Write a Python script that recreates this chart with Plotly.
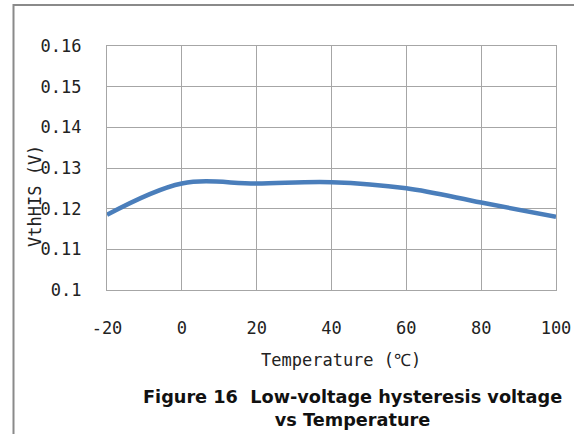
import plotly.graph_objects as go

# temperature (degC) and hysteresis voltage (V)
temperature = [-20, 0, 20, 40, 60, 80, 100]
vth_his = [0.1185, 0.1262, 0.1262, 0.1265, 0.1250, 0.1215, 0.1180]

y_ticks = [0.10, 0.11, 0.12, 0.13, 0.14, 0.15, 0.16]
y_ticktext = ["0.1", "0.11", "0.12", "0.13", "0.14", "0.15", "0.16"]
x_ticks = [-20, 0, 20, 40, 60, 80, 100]
x_ticktext = ["-20", "0", "20", "40", "60", "80", "100"]

W, H = 574, 434
L, R, T, B = 107, 18, 46, 144
PW, PH = W - L - R, H - T - B


def px(x):
    return (x - L) / PW


def py(y):
    return (H - B - y) / PH


mono = dict(family="DejaVu Sans Mono", size=17, color="#222222")
grid = "#a6a6a6"

fig = go.Figure(go.Scatter(
    x=temperature, y=vth_his, mode="lines",
    line=dict(color="#4a7ebb", width=4.5, shape="spline", smoothing=1),
    hoverinfo="x+y",
))

fig.update_layout(
    template="none",
    width=W, height=H,
    margin=dict(l=L, r=R, t=T, b=B, autoexpand=False),
    paper_bgcolor="white", plot_bgcolor="white",
    showlegend=False,
    xaxis=dict(range=[-20, 100], tickvals=x_ticks, ticktext=x_ticktext, showgrid=True,
               gridcolor=grid, gridwidth=1.2, showline=True, linecolor=grid, linewidth=1.2,
               mirror=True, zeroline=False, ticks="", tickfont=mono, ticklabelstandoff=22,
               automargin=False),
    yaxis=dict(range=[0.1, 0.16], tickvals=y_ticks, ticktext=y_ticktext, showgrid=True,
               gridcolor=grid, gridwidth=1.2, showline=True, linecolor=grid, linewidth=1.2,
               mirror=True, zeroline=False, ticks="", tickfont=mono, ticklabelstandoff=21,
               automargin=False),
)

fig.add_shape(type="rect", xref="paper", yref="paper",
              x0=px(13.5), x1=px(640), y0=py(520), y1=py(5),
              line=dict(color="#8a8a8a", width=2), layer="above")

fig.add_annotation(text="VthHIS (V)", textangle=-90, xref="paper", yref="paper",
                   x=px(35), y=py(196), xanchor="center", yanchor="middle",
                   showarrow=False, font=mono)
fig.add_annotation(text="Temperature (℃)", xref="paper", yref="paper",
                   x=px(341), y=py(360), xanchor="center", yanchor="middle",
                   showarrow=False, font=mono)
fig.add_annotation(text="<b>Figure 16  Low-voltage hysteresis voltage<br>vs Temperature</b>",
                   xref="paper", yref="paper", x=px(352), y=py(408),
                   xanchor="center", yanchor="middle", showarrow=False,
                   font=dict(family="DejaVu Sans", size=17.7, color="#111111"))

fig.write_html("out.html", config={"displayModeBar": False},
               post_script="document.body.style.margin='0px';")
